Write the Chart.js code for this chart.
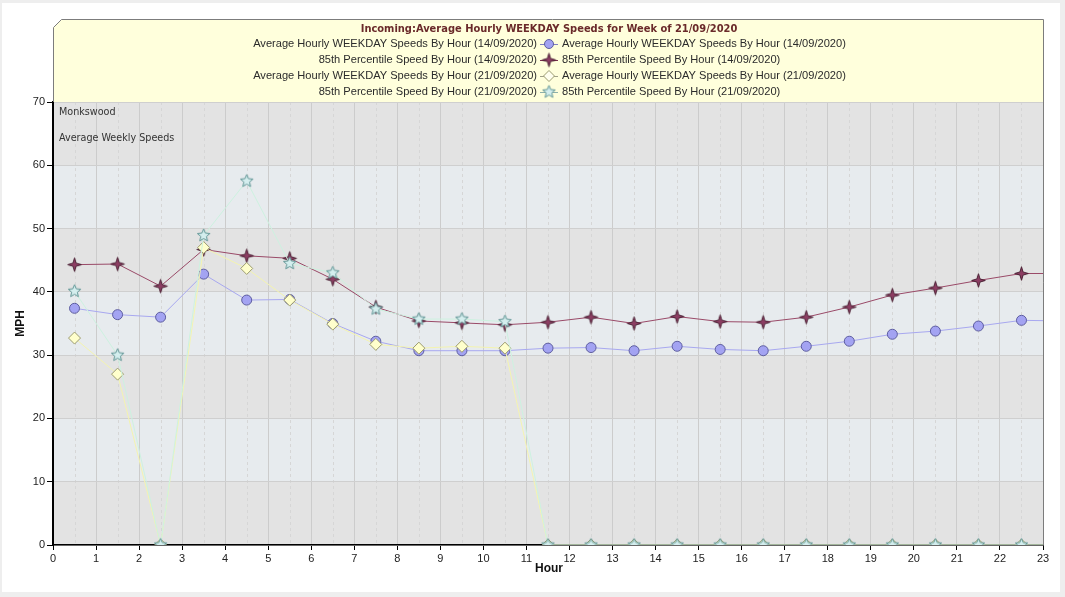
<!DOCTYPE html>
<html><head><meta charset="utf-8">
<script src="https://cdn.jsdelivr.net/npm/chart.js@4.4.1/dist/chart.umd.min.js"></script>
<style>
html,body{margin:0;padding:0;background:#eeeeee;overflow:hidden;}
#card{position:absolute;left:2px;top:3px;width:1058px;height:589px;background:#ffffff;}
#wrap{position:absolute;left:0;top:0;width:1065px;height:597px;}
canvas{display:block;}
</style></head><body>
<div id="card"></div>
<div id="wrap"><canvas id="c" width="1065" height="597"></canvas></div>
<script>
// ---- data ----
const hours = [0,1,2,3,4,5,6,7,8,9,10,11,12,13,14,15,16,17,18,19,20,21,22,23];
const avg1409 = [37.4,36.4,36.0,42.8,38.7,38.8,35.0,32.2,30.7,30.7,30.7,31.1,31.2,30.7,31.4,30.9,30.7,31.4,32.2,33.3,33.8,34.6,35.5,35.4];
const p85_1409 = [44.3,44.4,40.9,46.7,45.7,45.3,42.0,37.6,35.4,35.1,34.8,35.2,36.0,35.0,36.1,35.3,35.2,36.0,37.6,39.5,40.6,41.8,42.9,42.9];
const avg2109 = [32.7,27.0,0,47.0,43.7,38.7,34.9,31.7,31.1,31.4,31.1,0,0,0,0,0,0,0,0,0,0,0,0,0];
const p85_2109 = [40.1,30.0,0,48.9,57.5,44.5,43.0,37.3,35.7,35.7,35.3,0,0,0,0,0,0,0,0,0,0,0,0,0];
const yTickValues = [0,10,20,30,40,50,60,70];
const xTickMax = 23;
const seriesNames = [
  'Average Hourly WEEKDAY Speeds By Hour (14/09/2020)',
  '85th Percentile Speed By Hour (14/09/2020)',
  'Average Hourly WEEKDAY Speeds By Hour (21/09/2020)',
  '85th Percentile Speed By Hour (21/09/2020)'
];
const chartTitle = 'Incoming:Average Hourly WEEKDAY Speeds for Week of 21/09/2020';
const notes = ['Monkswood','Average Weekly Speeds'];
const xTitle = 'Hour', yTitle = 'MPH';

// ---- marker images ----
function starCanvas(points, outer, inner, fill, stroke){
  const s = Math.ceil(outer*2+3);
  const c = document.createElement('canvas'); c.width = s; c.height = s;
  const g = c.getContext('2d');
  const cx = s/2, cy = s/2;
  g.beginPath();
  for(let i=0;i<points*2;i++){
    const r = i%2===0 ? outer : inner;
    const a = -Math.PI/2 + i*Math.PI/points;
    const px = cx + r*Math.cos(a), py = cy + r*Math.sin(a);
    if(i===0) g.moveTo(px,py); else g.lineTo(px,py);
  }
  g.closePath();
  g.fillStyle = fill; g.fill();
  g.lineWidth = 1; g.strokeStyle = stroke; g.stroke();
  return c;
}
const star4 = starCanvas(4, 6.8, 2.2, '#8c3d62', '#4a1f33');
const star5 = starCanvas(5, 6.6, 3.0, '#d4eeee', '#5f9494');

const mk = arr => arr.map((v,i)=>({x: hours[i]+0.5, y: v}));

const styles = [
  {line:'#a8a8f0', legendLine:'#7f7fc0'},
  {line:'#9a4a68', legendLine:'#7a3050'},
  {line:'#f4f4b0', legendLine:'#a0a088'},
  {line:'#cdf2e0', legendLine:'#8fb0aa'}
];

const datasets = [
  {label:seriesNames[0], data:mk(avg1409), borderColor:styles[0].line, borderWidth:1,
   pointStyle:'circle', pointRadius:5, pointBackgroundColor:'#a3a3f2', pointBorderColor:'#5e5ea0', pointBorderWidth:1, order:3},
  {label:seriesNames[1], data:mk(p85_1409), borderColor:styles[1].line, borderWidth:1,
   pointStyle:star4, pointRadius:7, order:2},
  {label:seriesNames[2], data:mk(avg2109), borderColor:styles[2].line, borderWidth:1,
   pointStyle:'rectRot', pointRadius:6, pointBackgroundColor:'#ffffcc', pointBorderColor:'#9c9c70', pointBorderWidth:1, order:1},
  {label:seriesNames[3], data:mk(p85_2109), borderColor:styles[3].line, borderWidth:1,
   pointStyle:star5, pointRadius:7, order:0}
];

function drawLegendMarker(ctx, i, x, y){
  ctx.save();
  ctx.strokeStyle = styles[i].legendLine; ctx.lineWidth = 1;
  ctx.beginPath(); ctx.moveTo(x-9, y+0.5); ctx.lineTo(x+9, y+0.5); ctx.stroke();
  if(i===0){
    ctx.beginPath(); ctx.arc(x, y, 4.5, 0, Math.PI*2);
    ctx.fillStyle='#a3a3f2'; ctx.fill(); ctx.strokeStyle='#5e5ea0'; ctx.stroke();
  } else if(i===2){
    ctx.beginPath(); ctx.moveTo(x, y-5.5); ctx.lineTo(x+5.5, y); ctx.lineTo(x, y+5.5); ctx.lineTo(x-5.5, y); ctx.closePath();
    ctx.fillStyle='#ffffee'; ctx.fill(); ctx.strokeStyle='#9c9c70'; ctx.stroke();
  } else {
    const img = i===1 ? star4 : star5;
    ctx.drawImage(img, x - img.width/2, y - img.height/2);
  }
  ctx.restore();
}

const decor = {
  id:'decor',
  beforeDraw(chart){
    const {ctx, chartArea:a, scales:{x, y}} = chart;
    ctx.save();
    for(let i=0;i<yTickValues.length-1;i++){
      const p0 = y.getPixelForValue(yTickValues[i]), p1 = y.getPixelForValue(yTickValues[i+1]);
      ctx.fillStyle = i%2===0 ? '#e3e3e3' : '#e7ebee';
      ctx.fillRect(a.left, p1, a.right-a.left, p0-p1);
    }
    ctx.strokeStyle = '#d6d6d6'; ctx.lineWidth = 1; ctx.setLineDash([3,3]);
    hours.forEach(h=>{
      const px = Math.round(x.getPixelForValue(h+0.5))+0.5;
      if(px >= a.right) return;
      ctx.beginPath(); ctx.moveTo(px, a.top); ctx.lineTo(px, a.bottom); ctx.stroke();
    });
    ctx.restore();
  },
  afterDraw(chart){
    const {ctx, chartArea:a} = chart;
    ctx.save();
    // legend box
    const L = a.left + 0.5, R = a.right + 0.5, T = 19.5, B = a.top;
    ctx.beginPath();
    ctx.moveTo(L, B); ctx.lineTo(L, T+8); ctx.lineTo(L+8, T); ctx.lineTo(R, T); ctx.lineTo(R, B); ctx.closePath();
    ctx.fillStyle = '#ffffdc'; ctx.fill();
    ctx.beginPath();
    ctx.moveTo(L, B); ctx.lineTo(L, T+8); ctx.lineTo(L+8, T); ctx.lineTo(R, T); ctx.lineTo(R, a.bottom);
    ctx.strokeStyle = '#7c7c7c'; ctx.lineWidth = 1; ctx.stroke();
    const cx = (a.left + a.right)/2 + 1;
    ctx.textBaseline = 'middle';
    ctx.font = 'bold 11px "DejaVu Sans Condensed"';
    ctx.fillStyle = '#6a2a2a'; ctx.textAlign = 'center';
    ctx.fillText(chartTitle, cx, 29);
    ctx.font = '11.1px "Liberation Sans"'; ctx.fillStyle = '#2b2b2b';
    seriesNames.forEach((n,i)=>{
      const yy = 44 + i*16;
      ctx.textAlign = 'right'; ctx.fillText(n, cx - 12, yy);
      ctx.textAlign = 'left'; ctx.fillText(n, cx + 13, yy);
      drawLegendMarker(ctx, i, cx, yy);
    });
    // notes
    ctx.font = '10.7px "DejaVu Sans Condensed"'; ctx.fillStyle = '#333333'; ctx.textAlign = 'left';
    ctx.fillText(notes[0], a.left + 6, 112);
    ctx.fillText(notes[1], a.left + 6, 138);
    // axis titles
    ctx.font = 'bold 12px "Liberation Sans"'; ctx.fillStyle = '#111111'; ctx.textAlign = 'center';
    ctx.fillText(xTitle, cx, 569);
    ctx.translate(21, (a.top + a.bottom)/2);
    ctx.rotate(-Math.PI/2);
    ctx.fillText(yTitle, 0, 0);
    ctx.restore();
  }
};

new Chart(document.getElementById('c'), {
  type:'line',
  data:{datasets},
  options:{
    responsive:false, devicePixelRatio:1, animation:false,
    events:[],
    layout:{padding:{top:102, right:22, left:0, bottom:0}},
    plugins:{legend:{display:false}, title:{display:false}, tooltip:{enabled:false}},
    elements:{line:{tension:0}},
    scales:{
      x:{type:'linear', min:0, max:xTickMax,
        ticks:{stepSize:1, color:'#222', font:{family:'Liberation Sans', size:11}, padding:2, maxRotation:0, autoSkip:false},
        grid:{color:'#cccccc', tickColor:'#000000', tickLength:5, lineWidth:1},
        border:{color:'#000000', width:1.5},
        afterFit(s){ s.height = 52; }
      },
      y:{type:'linear', min:yTickValues[0], max:yTickValues[yTickValues.length-1],
        ticks:{stepSize:10, color:'#222', font:{family:'Liberation Sans', size:11}, padding:2},
        grid:{color:'#cfcfcf', tickColor:'#000000', tickLength:6, lineWidth:1},
        border:{color:'#000000', width:2},
        afterFit(s){ s.width = 53; }
      }
    }
  },
  plugins:[decor]
});
</script></body></html>
